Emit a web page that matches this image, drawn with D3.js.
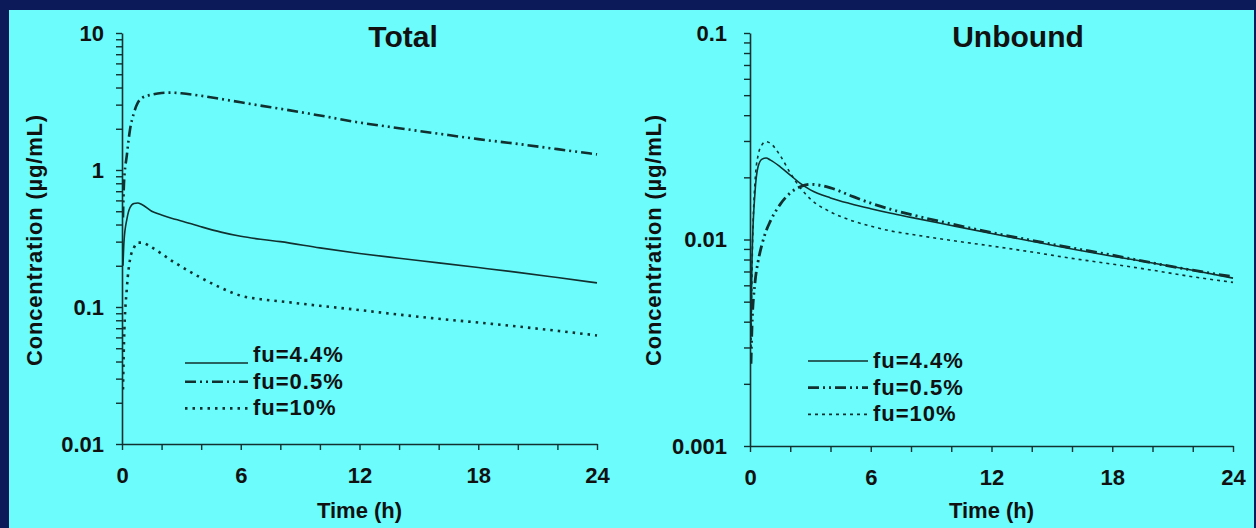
<!DOCTYPE html>
<html>
<head>
<meta charset="utf-8">
<script src="https://cdn.jsdelivr.net/npm/d3@7/dist/d3.min.js"></script>
<style>
  html, body { margin: 0; padding: 0; background: #0c1a5a; }
  svg { display: block; }
  text { font-family: "Liberation Sans", Arial, sans-serif; font-weight: bold; fill: #111; }
</style>
</head>
<body>
<svg id="chart" width="1256" height="528"></svg>
<script>
// Sampling times (h)
const times = [0.05, 0.1, 0.25, 0.4, 0.6, 0.8, 1, 1.5, 2, 2.5, 3, 4, 5, 6, 7, 8, 10, 12, 14, 16, 18, 20, 22, 24];

// Series names
const seriesNames = ["fu=4.4%", "fu=0.5%", "fu=10%"];

// Total concentration (µg/mL)
const total_fu44 = [0.2, 0.3, 0.44, 0.53, 0.57, 0.575, 0.56, 0.5, 0.47, 0.445, 0.425, 0.385, 0.352, 0.328, 0.312, 0.3, 0.27, 0.246, 0.227, 0.21, 0.194, 0.179, 0.164, 0.15];
const total_fu05 = [0.45, 0.8, 1.3, 1.95, 2.6, 3.1, 3.35, 3.55, 3.65, 3.67, 3.63, 3.48, 3.3, 3.12, 2.95, 2.8, 2.5, 2.22, 2.02, 1.84, 1.68, 1.55, 1.42, 1.3];
const total_fu10 = [0.025, 0.055, 0.14, 0.22, 0.27, 0.295, 0.295, 0.272, 0.245, 0.218, 0.197, 0.163, 0.138, 0.121, 0.114, 0.11, 0.102, 0.095, 0.088, 0.082, 0.077, 0.072, 0.067, 0.062];

// Unbound concentration (µg/mL)
const unbound_fu44 = [0.0038, 0.008, 0.017, 0.0225, 0.0245, 0.0248, 0.0243, 0.0225, 0.0205, 0.0187, 0.0174, 0.0159, 0.0149, 0.0141, 0.0134, 0.0128, 0.0117, 0.0107, 0.0098, 0.009, 0.0083, 0.0077, 0.0071, 0.0065];
const unbound_fu05 = [0.0025, 0.0038, 0.0062, 0.0078, 0.0095, 0.011, 0.0122, 0.0148, 0.0168, 0.018, 0.0185, 0.0178, 0.0163, 0.015, 0.014, 0.0132, 0.0119, 0.0108, 0.0099, 0.0091, 0.0084, 0.0077, 0.0071, 0.0066];
const unbound_fu10 = [0.003, 0.007, 0.019, 0.0255, 0.0288, 0.0298, 0.0293, 0.0255, 0.021, 0.0178, 0.0157, 0.0136, 0.0124, 0.0116, 0.011, 0.0106, 0.0099, 0.0093, 0.0087, 0.0081, 0.0076, 0.0071, 0.0066, 0.0062];

// Axis ticks
const xTicks = [0, 2, 4, 6, 8, 10, 12, 14, 16, 18, 20, 22, 24];
const xTickLabels = [0, 6, 12, 18, 24];
const totalTickLabels = ["0.01", "0.1", "1", "10"];
const unboundTickLabels = ["0.001", "0.01", "0.1"];

const svg = d3.select("#chart");
const ink = "#12302f";

// Cyan panel framed by navy
svg.append("rect").attr("x", 0).attr("y", 0).attr("width", 1256).attr("height", 528).attr("fill", "#0c1a5a");
svg.append("rect").attr("x", 9).attr("y", 10).attr("width", 1245).attr("height", 518).attr("fill", "#6cfcfc");

// Line styles per series
const styles = {
  total: [
    { width: 1.6, dash: null },
    { width: 2.6, dash: "11,4,2,4,2,4" },
    { width: 2.6, dash: "2.5,5" }
  ],
  unbound: [
    { width: 1.6, dash: null },
    { width: 2.8, dash: "11,4,2,4,2,4" },
    { width: 1.6, dash: "3,4" }
  ]
};

function decadeTicks(lo, hi) {
  const out = [];
  for (let e = lo; e < hi; e++) {
    for (let m = 1; m < 10; m++) out.push(m * Math.pow(10, e));
  }
  out.push(Math.pow(10, hi));
  return out;
}

function panel(cfg) {
  const x = d3.scaleLinear().domain([0, 24]).range([cfg.x0, cfg.x1]);
  const y = d3.scaleLog().domain(cfg.domain).range([cfg.y1, cfg.y0]);
  const g = svg.append("g");

  const clipId = "clip-" + cfg.key;
  svg.append("clipPath").attr("id", clipId)
    .append("rect").attr("x", cfg.x0).attr("y", cfg.y0 - 2)
    .attr("width", cfg.x1 - cfg.x0 + 4).attr("height", cfg.y1 - cfg.y0 + 2);

  // y axis (log), minor ticks at 2..9 of each decade
  const yAxis = d3.axisLeft(y)
    .tickValues(decadeTicks(Math.log10(cfg.domain[0]), Math.log10(cfg.domain[1])))
    .tickSize(6).tickSizeOuter(0)
    .tickFormat(d => {
      const hit = cfg.labels.find(s => Math.abs(+s - d) / d < 1e-6);
      return hit || "";
    })
    .tickPadding(cfg.yPad);
  const ya = g.append("g").attr("transform", `translate(${cfg.x0},0)`).call(yAxis);

  // x axis, minor ticks every 2 h
  const xAxis = d3.axisBottom(x).tickValues(xTicks).tickSize(6).tickSizeOuter(0)
    .tickFormat(d => xTickLabels.includes(d) ? d : "").tickPadding(20);
  const xa = g.append("g").attr("transform", `translate(0,${cfg.y1})`).call(xAxis);

  [ya, xa].forEach(a => {
    a.select(".domain").attr("stroke", ink).attr("stroke-width", 1.6);
    a.selectAll(".tick line").attr("stroke", ink).attr("stroke-width", 1.4);
    a.selectAll(".tick text").attr("font-size", 22).attr("fill", "#111")
      .attr("font-family", "Liberation Sans, Arial, sans-serif").attr("font-weight", "bold");
  });
  xa.selectAll(".tick text").attr("dy", "0.6em");

  // curves
  const line = d3.line().x(d => x(d[0])).y(d => y(d[1])).curve(d3.curveMonotoneX);
  cfg.series.forEach((vals, i) => {
    const st = styles[cfg.key][i];
    g.append("path")
      .datum(times.map((t, k) => [t, vals[k]]))
      .attr("clip-path", `url(#${clipId})`)
      .attr("fill", "none").attr("stroke", ink)
      .attr("stroke-width", st.width)
      .attr("stroke-dasharray", st.dash)
      .attr("d", line);
  });

  // title
  svg.append("text").attr("x", cfg.titleX).attr("y", 47).attr("text-anchor", "middle")
    .attr("font-size", 30).text(cfg.title);

  // axis titles
  svg.append("text").attr("x", (cfg.x0 + cfg.x1) / 2).attr("y", 518).attr("text-anchor", "middle")
    .attr("font-size", 22).text("Time (h)");
  svg.append("text")
    .attr("transform", `translate(${cfg.yLabelX},240) rotate(-90)`)
    .attr("text-anchor", "middle").attr("font-size", 22).attr("letter-spacing", 0.8)
    .text("Concentration (\u00b5g/mL)");

  // legend
  seriesNames.forEach((name, i) => {
    const st = styles[cfg.key][i];
    const ty = cfg.legY + i * 26.7;
    const ly = ty - 7 + (i === 0 ? cfg.firstShift : 0);
    g.append("line")
      .attr("x1", cfg.legX0).attr("x2", cfg.legX1)
      .attr("y1", ly).attr("y2", ly)
      .attr("stroke", ink).attr("stroke-width", st.width)
      .attr("stroke-dasharray", st.dash);
    g.append("text").attr("x", cfg.legX1 + 5).attr("y", ty)
      .attr("font-size", 22).attr("letter-spacing", 1).text(name);
  });
}

panel({
  key: "total", title: "Total", titleX: 403,
  x0: 122, x1: 597, y0: 33, y1: 444,
  domain: [0.01, 10], labels: totalTickLabels, yPad: 12,
  yLabelX: 42,
  series: [total_fu44, total_fu05, total_fu10],
  legX0: 185, legX1: 248, legY: 362, firstShift: 8
});

panel({
  key: "unbound", title: "Unbound", titleX: 1018,
  x0: 750, x1: 1233, y0: 33, y1: 446,
  domain: [0.001, 0.1], labels: unboundTickLabels, yPad: 17,
  yLabelX: 661,
  series: [unbound_fu44, unbound_fu05, unbound_fu10],
  legX0: 808, legX1: 868, legY: 368, firstShift: 0
});
</script>
</body>
</html>
